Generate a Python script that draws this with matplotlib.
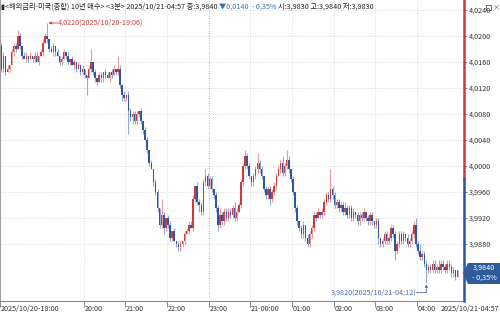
import numpy as np
import matplotlib
matplotlib.use("Agg")
import matplotlib.pyplot as plt
import matplotlib.transforms as mtransforms
from matplotlib.patches import Polygon, Rectangle

plt.rcParams['font.family'] = ['Noto Sans CJK KR', 'DejaVu Sans']

# === Data: 3-minute bars, 2025/10/20 18:00 .. 2025/10/21 04:57 ===
first_open = 4.0185
close = [
    4.0150, 4.0170, 4.0145, 4.0150, 4.0155, 4.0175, 4.0185, 4.0180, 4.0200, 4.0185,
    4.0170, 4.0165, 4.0170, 4.0165, 4.0170, 4.0165, 4.0170, 4.0160, 4.0170, 4.0175,
    4.0190, 4.0200, 4.0195, 4.0180, 4.0175, 4.0185, 4.0175, 4.0170, 4.0160, 4.0165,
    4.0175, 4.0170, 4.0160, 4.0165, 4.0155, 4.0160, 4.0150, 4.0155, 4.0145, 4.0150,
    4.0140, 4.0135, 4.0150, 4.0160, 4.0145, 4.0135, 4.0130, 4.0140, 4.0135, 4.0145,
    4.0140, 4.0135, 4.0145, 4.0140, 4.0150, 4.0145, 4.0150, 4.0125, 4.0110, 4.0105,
    4.0110, 4.0085, 4.0075, 4.0080, 4.0070, 4.0080, 4.0085, 4.0070, 4.0055, 4.0040,
    4.0025, 4.0005, 3.9995, 3.9975, 3.9960, 3.9935, 3.9910, 3.9925, 3.9905, 3.9920,
    3.9910, 3.9890, 3.9900, 3.9885, 3.9880, 3.9875, 3.9880, 3.9885, 3.9895, 3.9900,
    3.9910, 3.9905, 3.9950, 3.9970, 3.9945, 3.9940, 3.9930, 3.9975, 3.9985, 3.9970,
    3.9980, 3.9965, 3.9955, 3.9935, 3.9910, 3.9925, 3.9915, 3.9930, 3.9920, 3.9930,
    3.9925, 3.9935, 3.9920, 3.9930, 3.9940, 3.9975, 4.0000, 4.0015, 4.0000, 3.9985,
    3.9975, 3.9985, 3.9995, 4.0005, 3.9995, 3.9985, 3.9965, 3.9955, 3.9965, 3.9950,
    3.9960, 3.9970, 3.9985, 3.9995, 4.0005, 3.9990, 4.0000, 4.0010, 3.9995, 3.9980,
    3.9960, 3.9935, 3.9915, 3.9905, 3.9895, 3.9910, 3.9890, 3.9880, 3.9895, 3.9905,
    3.9925, 3.9920, 3.9930, 3.9925, 3.9930, 3.9945, 3.9955, 3.9950, 3.9965, 3.9955,
    3.9940, 3.9945, 3.9935, 3.9940, 3.9930, 3.9935, 3.9925, 3.9935, 3.9920, 3.9930,
    3.9925, 3.9915, 3.9925, 3.9920, 3.9930, 3.9920, 3.9915, 3.9925, 3.9915, 3.9910,
    3.9915, 3.9890, 3.9880, 3.9885, 3.9895, 3.9885, 3.9890, 3.9905, 3.9895, 3.9870,
    3.9880, 3.9895, 3.9885, 3.9895, 3.9890, 3.9880, 3.9885, 3.9895, 3.9910, 3.9880,
    3.9870, 3.9860, 3.9865, 3.9850, 3.9840, 3.9845, 3.9840, 3.9850, 3.9840, 3.9845,
    3.9840, 3.9850, 3.9845, 3.9840, 3.9850, 3.9845, 3.9835, 3.9840, 3.9830, 3.9840,
]
# wick lengths above / below the body, in 0.0005 steps
up_wick = [
    1, 1, 0, 1, 0, 1, 1, 1, 2, 1,  0, 1, 1, 0, 1, 0, 1, 1, 0, 1,
    1, 1, 4, 0, 1, 1, 0, 1, 0, 1,  1, 0, 1, 0, 1, 1, 0, 1, 0, 1,
    0, 0, 1, 4, 0, 1, 0, 1, 1, 0,  1, 1, 0, 1, 1, 0, 4, 1, 0, 1,
    0, 1, 1, 1, 1, 1, 0, 1, 0, 1,  1, 0, 1, 0, 1, 1, 0, 5, 1, 0,
    1, 1, 0, 1, 0, 1, 1, 0, 1, 1,  1, 1, 1, 0, 1, 1, 1, 1, 2, 1,
    1, 1, 0, 1, 1, 2, 1, 1, 1, 1,  1, 1, 2, 1, 1, 1, 1, 2, 1, 1,
    0, 1, 1, 3, 1, 1, 0, 1, 1, 1,  1, 1, 1, 1, 1, 2, 1, 3, 1, 0,
    1, 0, 1, 0, 1, 1, 0, 1, 1, 1,  1, 1, 1, 0, 1, 1, 1, 1, 6, 1,
    1, 1, 1, 1, 1, 2, 1, 1, 1, 1,  0, 1, 1, 1, 1, 0, 1, 1, 1, 0,
    1, 1, 0, 1, 1, 1, 1, 1, 1, 1,  1, 1, 1, 1, 0, 1, 1, 1, 1, 2,
    1, 2, 1, 1, 1, 1, 1, 1, 1, 1,  2, 1, 1, 1, 1, 1, 1, 1, 0, 0,
]
down_wick = [
    1, 1, 1, 0, 1, 0, 1, 1, 0, 1,  1, 0, 1, 1, 0, 1, 1, 0, 1, 0,
    1, 0, 1, 1, 0, 1, 1, 0, 1, 1,  0, 1, 1, 1, 0, 1, 1, 0, 1, 1,
    1, 5, 0, 1, 1, 1, 1, 0, 1, 1,  1, 0, 1, 1, 0, 1, 1, 1, 2, 1,
    1, 7, 1, 2, 1, 1, 1, 1, 1, 0,  1, 1, 0, 1, 1, 1, 1, 1, 2, 1,
    1, 1, 1, 0, 1, 1, 1, 1, 1, 0,  1, 0, 1, 1, 1, 2, 1, 1, 1, 1,
    1, 1, 1, 1, 2, 1, 1, 1, 1, 1,  1, 1, 1, 1, 0, 1, 1, 1, 1, 1,
    1, 1, 1, 1, 1, 1, 1, 1, 1, 2,  1, 1, 1, 0, 1, 1, 1, 1, 1, 1,
    1, 1, 1, 1, 1, 1, 1, 1, 1, 1,  1, 1, 0, 1, 1, 1, 1, 1, 1, 1,
    1, 1, 1, 1, 1, 1, 1, 1, 1, 1,  1, 1, 1, 1, 1, 1, 1, 1, 1, 1,
    1, 2, 1, 1, 1, 1, 1, 1, 1, 3,  1, 1, 1, 1, 1, 1, 1, 1, 1, 1,
    1, 1, 1, 1, 4, 1, 1, 1, 1, 1,  1, 1, 1, 1, 1, 1, 1, 1, 1, 0,
]
prev_close = 3.9980
change = -0.0140
change_pct = -0.35

hour_pos = [-0.5, 39.5, 59.5, 79.5, 99.5, 119.5, 139.5, 159.5, 179.5, 199.5]
hour_labels = ["2025/10/20-18:00", "20:00", "21:00", "22:00", "23:00",
               "21-00:00", "01:00", "02:00", "03:00", "04:00"]
end_label = "2025/10/21-04:57"
y_ticks = [3.9880, 3.9920, 3.9960, 4.0000, 4.0040, 4.0080, 4.0120, 4.0160, 4.0200, 4.0240]

RED = "#d23a3a"
BLUE = "#2d57a3"
FS = 5.2

c = np.array(close)
o = np.concatenate([[first_open], c[:-1]])
step = 0.0005
hi = np.maximum(o, c) + np.array(up_wick) * step
lo = np.minimum(o, c) - np.array(down_wick) * step
x = np.arange(len(c))
up = c >= o

fig = plt.figure(figsize=(5, 3.14), dpi=100)
ax = fig.add_axes([0.0, 1 - 301 / 314, 463 / 500, 301 / 314])
ax.set_xlim(-0.6, 221.6)
ax.set_ylim(3.97924, 4.02554)

# grid
for yv in y_ticks:
    ax.axhline(yv, color="#d0d0d0", lw=0.6, ls=(0, (1, 2)), zorder=0)
for xv in hour_pos[1:]:
    col = "#9a9a9a" if xv == 99.5 else "#d0d0d0"
    ax.axvline(xv, color=col, lw=0.6, ls=(0, (1, 2)), zorder=0)

# candles
cols = np.where(up, RED, BLUE)
ax.vlines(x, lo, hi, colors=cols, lw=0.8, alpha=0.5, zorder=2)
body_h = np.maximum(np.abs(c - o), 0.00012)
ax.bar(x, body_h, bottom=np.minimum(o, c), width=0.7, color=cols,
       linewidth=0, zorder=3)

# right axis coloured line split at previous close
tr = mtransforms.blended_transform_factory(ax.transAxes, ax.transData)
ax.plot([1.002, 1.002], [prev_close, 4.02554], color=RED, lw=1.8,
        transform=tr, clip_on=False, zorder=5)
ax.plot([1.002, 1.002], [3.97924, prev_close], color=BLUE, lw=1.8,
        transform=tr, clip_on=False, zorder=5)

for s in ["top", "right"]:
    ax.spines[s].set_visible(False)
ax.spines["left"].set_color("#a0a0a0")
ax.spines["left"].set_linewidth(0.8)
ax.spines["bottom"].set_color("#8c8c8c")
ax.spines["bottom"].set_linewidth(0.8)

ax.yaxis.tick_right()
ax.set_yticks(y_ticks)
ax.set_yticklabels([f"{v:.4f}".replace(".", ",") for v in y_ticks])
ax.tick_params(axis="y", length=3, width=0.6, color="#777777", pad=1,
               labelsize=FS, labelcolor="#333333")
ax.set_xticks(hour_pos)
ax.set_xticklabels([])
ax.tick_params(axis="x", length=4, width=0.6, color="#777777")

trx = mtransforms.blended_transform_factory(ax.transData, ax.transAxes)
for xv, lab in zip(hour_pos, hour_labels):
    ax.text(xv + 0.4, -0.012, lab, transform=trx, ha="left", va="top",
            fontsize=FS, color="#333333")
fig.text(0.998, 0.004, end_label, ha="right", va="bottom", fontsize=FS,
         color="#333333")

# max / min annotations
imax = int(np.argmax(hi))
imin = int(np.argmin(lo))
hr, mn = divmod(18 * 60 + 3 * imax, 60)
max_txt = f"{hi[imax]:.4f}".replace(".", ",") + f"(2025/10/20-{hr:02d}:{mn:02d})"
hr2, mn2 = divmod(18 * 60 + 3 * imin - 24 * 60, 60)
min_txt = f"{lo[imin]:.4f}".replace(".", ",") + f"(2025/10/21-{hr2:02d}:{mn2:02d})"

ax.annotate("", xy=(imax + 0.7, hi[imax]), xytext=(imax + 5.2, hi[imax]),
            arrowprops=dict(arrowstyle="-|>", color=RED, lw=0.6,
                            mutation_scale=4, shrinkA=0, shrinkB=0))
ax.text(imax + 5.3, hi[imax], max_txt, ha="left", va="center", fontsize=FS,
        color="#c8403a")

dy = 0.0014
ax.annotate("", xy=(imin, lo[imin] - 0.0002), xytext=(imin, lo[imin] - dy),
            arrowprops=dict(arrowstyle="-|>", color="#4a6fa5", lw=0.6,
                            mutation_scale=4, shrinkA=0, shrinkB=0))
ax.plot([imin - 4.8, imin], [lo[imin] - dy, lo[imin] - dy], color="#4a6fa5",
        lw=0.6, clip_on=False)
ax.text(imin - 5.0, lo[imin] - dy, min_txt, ha="right", va="center",
        fontsize=FS, color="#4a6fa5")

# header line
last = c[-1]
t1 = fig.text(0.002, 0.992, "▮<해외금리-미국(종합) 10년 매수> <3분> 2025/10/21-04:57 종:"
              + f"{last:.4f}".replace(".", ",") + " ",
              ha="left", va="top", fontsize=FS, color="#222222")
t2 = ax.annotate(f"▼{abs(change):.4f}".replace(".", ",") + f"  - {abs(change_pct):.2f}%".replace(".", ",") + " ",
                 xy=(1, 0), xycoords=t1, ha="left", va="bottom",
                 fontsize=FS, color="#3a6fb0")
ax.annotate("시:" + f"{o[-1]:.4f}".replace(".", ",") + " 고:" + f"{hi[-1]:.4f}".replace(".", ",")
            + " 저:" + f"{lo[-1]:.4f}".replace(".", ","),
            xy=(1, 0), xycoords=t2, ha="left", va="bottom",
            fontsize=FS, color="#222222")

# small window buttons at top right
fig.patches.append(Rectangle((486 / 500, 1 - 10 / 314), 5 / 500, 5 / 314,
                             transform=fig.transFigure, fill=False,
                             ec="#555555", lw=0.6))
fig.text(496 / 500, 1 - 3 / 314, "×", ha="center", va="top", fontsize=5,
         color="#555555")

# last price box
def px(xp, yp):
    return (xp / 500, 1 - yp / 314)

box = Polygon([px(463, 273), px(468, 263), px(500, 263), px(500, 284), px(468, 284)],
              closed=True, transform=fig.transFigure, fc="#2f5a9c", ec="none")
fig.patches.append(box)
fig.text(484 / 500, 1 - 268 / 314, f"{last:.4f}".replace(".", ","), ha="center",
         va="center", fontsize=FS, color="white")
fig.text(484 / 500, 1 - 278 / 314, f"- {abs(change_pct):.2f}%".replace(".", ","),
         ha="center", va="center", fontsize=FS, color="white")

fig.savefig("out.png", dpi=100)
